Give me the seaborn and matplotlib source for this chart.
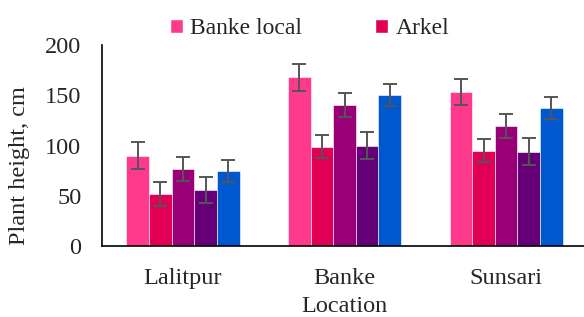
import pandas as pd
import matplotlib
matplotlib.use("Agg")
import matplotlib.pyplot as plt
import seaborn as sns
from matplotlib.patches import Patch

locations = ["Lalitpur", "Banke", "Sunsari"]
varieties = ["Banke local", "Arkel", "Variety 3", "Variety 4", "Variety 5"]
colors = ["#FF3A8C", "#E10056", "#990078", "#660078", "#0058D0"]

# plant height (cm) per location, one list per variety
heights = {
    "Banke local": [90, 168, 153],
    "Arkel": [52, 99, 95],
    "Variety 3": [77, 140, 119],
    "Variety 4": [56, 100, 94],
    "Variety 5": [75, 150, 137],
}
errors = {
    "Banke local": [13.5, 13.5, 13],
    "Arkel": [12, 11.5, 11.5],
    "Variety 3": [12, 12, 12],
    "Variety 4": [13, 13, 13],
    "Variety 5": [11, 11, 11],
}

rows = []
for v in varieties:
    for i, loc in enumerate(locations):
        rows.append({"Location": loc, "Variety": v,
                     "Height": heights[v][i], "Err": errors[v][i]})
df = pd.DataFrame(rows)

sns.set_style("white")
plt.rcParams["font.family"] = ["Liberation Serif", "DejaVu Serif"]

fig = plt.figure(figsize=(5.84, 3.17), dpi=100)
ax = fig.add_axes([0.175, 0.224, 0.83, 0.634])

sns.barplot(data=df, x="Location", y="Height", hue="Variety",
            order=locations, hue_order=varieties, palette=colors,
            width=0.7, errorbar=None, saturation=1, legend=False,
            edgecolor="white", linewidth=0.4, ax=ax)

# error bars at the centres of the drawn bars
for k, v in enumerate(varieties):
    bars = ax.patches[k * len(locations):(k + 1) * len(locations)]
    xs = [b.get_x() + b.get_width() / 2 for b in bars]
    ys = [b.get_height() for b in bars]
    ax.errorbar(xs, ys, yerr=errors[v], fmt="none", ecolor="#555555",
                elinewidth=1.4, capsize=4.8, capthick=1.4)

ax.set_ylim(0, 200)
ax.set_xlim(-0.5, 2.5)
ax.set_yticks([0, 50, 100, 150, 200])
ax.tick_params(axis="both", length=0, labelsize=17.5)
ax.tick_params(axis="y", pad=15)
ax.tick_params(axis="x", pad=16)
ax.set_xlabel("Location", fontsize=17.5, labelpad=5)
ax.set_ylabel("Plant height, cm", fontsize=17.5)
ax.yaxis.set_label_coords(-0.148, 0.40)
for s in ["top", "right"]:
    ax.spines[s].set_visible(False)
for s in ["left", "bottom"]:
    ax.spines[s].set_color("black")
    ax.spines[s].set_linewidth(1.2)

handles = [Patch(facecolor=colors[0]), Patch(facecolor=colors[1])]
fig.legend(handles, varieties[:2], loc="center left", bbox_to_anchor=(0.291, 0.91),
           ncol=2, frameon=False, fontsize=17, handlelength=0.55,
           handleheight=0.55, handletextpad=0.3, columnspacing=3.1,
           borderpad=0, borderaxespad=0)

fig.savefig("out.png", dpi=100)
